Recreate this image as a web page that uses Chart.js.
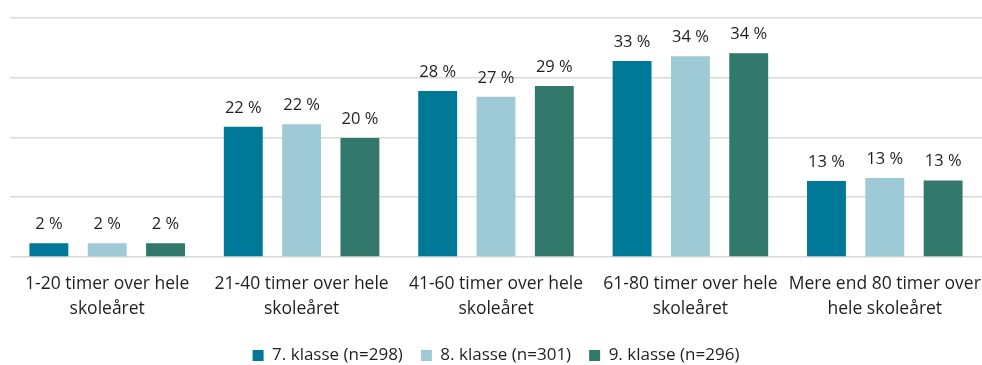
<!DOCTYPE html>
<html>
<head>
<meta charset="utf-8">
<script src="https://cdn.jsdelivr.net/npm/chart.js@4/dist/chart.umd.min.js"></script>
<style>
  html, body { margin: 0; padding: 0; background: #fff; }
  #wrap { width: 982px; height: 365px; position: relative; }
</style>
</head>
<body>
<div id="wrap"><canvas id="chart"></canvas></div>
<script>
// Categories (hours over the school year)
const categories = [
  ["1-20 timer over hele", "skoleåret"],
  ["21-40 timer over hele", "skoleåret"],
  ["41-60 timer over hele", "skoleåret"],
  ["61-80 timer over hele", "skoleåret"],
  ["Mere end 80 timer over", "hele skoleåret"]
];

// Share of pupils per grade, in percent
const grade7 = [2.3, 21.8, 27.8, 32.8, 12.7];
const grade8 = [2.3, 22.2, 26.8, 33.6, 13.2];
const grade9 = [2.3, 19.9, 28.6, 34.1, 12.8];

const seriesNames = ["7. klasse (n=298)", "8. klasse (n=301)", "9. klasse (n=296)"];
const seriesColors = ["#007898", "#9ecad6", "#32786b"];

const FONT = "'Open Sans', 'Noto Sans', sans-serif";
const TEXT = "#1f1f1f";

// Draws the percentage above each bar
const valueLabels = {
  id: "valueLabels",
  afterDatasetsDraw(chart) {
    const ctx = chart.ctx;
    ctx.save();
    ctx.font = "16.5px " + FONT;
    ctx.fillStyle = TEXT;
    ctx.textAlign = "center";
    ctx.textBaseline = "alphabetic";
    chart.data.datasets.forEach((ds, i) => {
      chart.getDatasetMeta(i).data.forEach((bar, j) => {
        ctx.fillText(Math.round(ds.data[j]) + " %", bar.x, bar.y - 14);
      });
    });
    ctx.restore();
  }
};

new Chart(document.getElementById("chart"), {
  type: "bar",
  data: {
    labels: categories,
    datasets: [grade7, grade8, grade9].map((d, i) => ({
      label: seriesNames[i],
      data: d,
      backgroundColor: seriesColors[i],
      categoryPercentage: 0.9,
      barPercentage: 0.667
    }))
  },
  options: {
    responsive: true,
    maintainAspectRatio: false,
    animation: false,
    layout: { padding: { left: 10, right: 0, top: 18, bottom: -9 } },
    scales: {
      x: {
        grid: { display: false },
        border: { display: false },
        // keep the plot spanning the full width; labels may reach the edges
        afterFit(scale) { scale.paddingLeft = 0; scale.paddingRight = 0; },
        ticks: {
          color: TEXT,
          font: { family: FONT, size: 17.5, lineHeight: 1.43 },
          padding: 7,
          maxRotation: 0,
          autoSkip: false
        }
      },
      y: {
        min: 0,
        max: 40,
        ticks: { stepSize: 10, display: false },
        border: { display: false },
        grid: { color: "#d9d9d9", lineWidth: 1.5, drawTicks: false }
      }
    },
    plugins: {
      tooltip: { enabled: false },
      legend: {
        position: "bottom",
        labels: {
          color: TEXT,
          font: { family: FONT, size: 17 },
          boxWidth: 11,
          boxHeight: 11,
          padding: 18
        }
      }
    }
  },
  plugins: [valueLabels]
});
</script>
</body>
</html>
